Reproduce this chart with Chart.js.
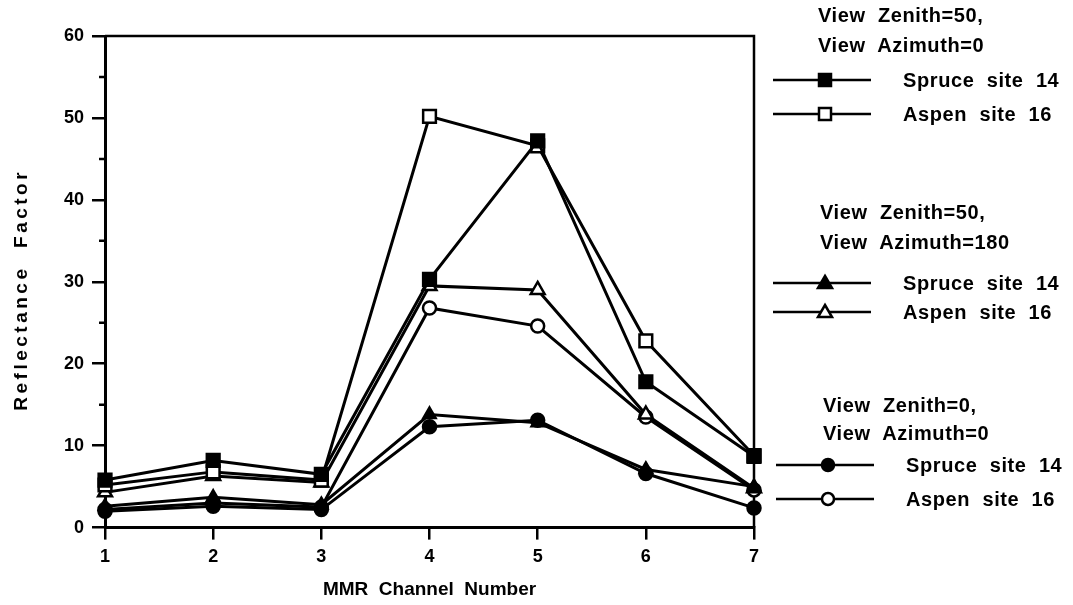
<!DOCTYPE html>
<html>
<head>
<meta charset="utf-8">
<script src="https://cdn.jsdelivr.net/npm/chart.js@4/dist/chart.umd.min.js"></script>
<style>
  html, body { margin: 0; padding: 0; background: #fff; }
  #wrap { position: relative; width: 1073px; height: 605px; }
  #legend { position: absolute; left: 0; top: 0; width: 1073px; height: 605px;
    font-family: 'Liberation Sans', Arial, sans-serif; font-size: 20px; font-weight: bold; color: #000; letter-spacing: 0.6px; }
  #legend div { position: absolute; white-space: pre; line-height: 22px; }
  #legend svg { position: absolute; }
</style>
</head>
<body>
<div id="wrap">
  <canvas id="myChart" width="1073" height="605"></canvas>
  <div id="legend"></div>
</div>
<script>
const channels = ['1', '2', '3', '4', '5', '6', '7'];

// View Zenith=50, View Azimuth=0
const spruceZ50A0 = [5.8, 8.2, 6.5, 30.3, 47.2, 17.8, 8.7];
const aspenZ50A0 = [5.2, 6.8, 5.8, 50.2, 46.6, 22.8, 8.8];
// View Zenith=50, View Azimuth=180
const spruceZ50A180 = [2.6, 3.7, 2.8, 13.8, 12.8, 7.1, 5.0];
const aspenZ50A180 = [4.3, 6.3, 5.5, 29.5, 29.0, 13.8, 4.8];
// View Zenith=0, View Azimuth=0
const spruceZ0A0 = [2.0, 2.6, 2.2, 12.3, 13.1, 6.6, 2.4];
const aspenZ0A0 = [2.2, 3.0, 2.5, 26.8, 24.6, 13.5, 4.6];

const yTicks = [0, 10, 20, 30, 40, 50, 60];
const yMinorTicks = [5, 15, 25, 35, 45, 55];
const yTitle = 'Reflectance  Factor';

const FONT = "'Liberation Sans', Arial, sans-serif";

function series(label, data, style, filled, radius) {
	return {
		label: label,
		data: data,
		borderColor: '#000',
		borderWidth: 3,
		pointStyle: style,
		pointRadius: radius,
		pointHoverRadius: radius,
		pointBorderWidth: 2.5,
		pointBorderColor: '#000',
		pointBackgroundColor: filled ? '#000' : '#fff',
		tension: 0,
		clip: false
	};
}

const data = {
	labels: channels,
	datasets: [
		series('Spruce site 14 (Z50 A0)', spruceZ50A0, 'rect', true, 9),
		series('Aspen site 16 (Z50 A0)', aspenZ50A0, 'rect', false, 9),
		series('Spruce site 14 (Z50 A180)', spruceZ50A180, 'triangle', true, 7),
		series('Aspen site 16 (Z50 A180)', aspenZ50A180, 'triangle', false, 8),
		series('Spruce site 14 (Z0 A0)', spruceZ0A0, 'circle', true, 6.5),
		series('Aspen site 16 (Z0 A0)', aspenZ0A0, 'circle', false, 6.5)
	]
};

// box on top/right, short minor ticks on the y axis, spaced-out y title
const framePlugin = {
	id: 'frame',
	beforeDatasetsDraw(chart) {
		const ctx = chart.ctx;
		const a = chart.chartArea;
		const y = chart.scales.y;
		ctx.save();
		ctx.strokeStyle = '#000';
		ctx.lineWidth = 2.5;
		ctx.beginPath();
		ctx.moveTo(a.left, a.top);
		ctx.lineTo(a.right, a.top);
		ctx.lineTo(a.right, a.bottom);
		ctx.stroke();
		ctx.beginPath();
		yMinorTicks.forEach(v => {
			const py = y.getPixelForValue(v);
			ctx.moveTo(a.left - 6, py);
			ctx.lineTo(a.left, py);
		});
		ctx.stroke();

		ctx.translate(22, (a.top + a.bottom) / 2 + 8);
		ctx.rotate(-Math.PI / 2);
		ctx.font = 'bold 19px ' + FONT;
		ctx.letterSpacing = '3.5px';
		ctx.fillStyle = '#000';
		ctx.textAlign = 'center';
		ctx.textBaseline = 'middle';
		ctx.fillText(yTitle, 0, 0);
		ctx.restore();
	}
};

const config = {
	type: 'line',
	data: data,
	plugins: [framePlugin],
	options: {
		responsive: false,
		animation: false,
		layout: { padding: { left: 56, right: 319, top: 36, bottom: 4 } },
		plugins: {
			legend: { display: false },
			tooltip: { enabled: false }
		},
		scales: {
			x: {
				type: 'category',
				offset: false,
				grid: { drawOnChartArea: false, color: '#000', lineWidth: 2.5, tickLength: 12 },
				border: { color: '#000', width: 3 },
				ticks: { color: '#000', font: { family: FONT, size: 18, weight: 'bold' }, padding: 7, maxRotation: 0 },
				title: {
					display: true, text: 'MMR  Channel  Number', color: '#000',
					font: { family: FONT, size: 19, weight: 'bold' }, padding: { top: 3, bottom: 0 }
				}
			},
			y: {
				min: 0,
				max: 60,
				afterBuildTicks(scale) { scale.ticks = yTicks.map(v => ({ value: v })); },
				grid: { drawOnChartArea: false, color: '#000', lineWidth: 2.5, tickLength: 13 },
				border: { color: '#000', width: 3 },
				ticks: { color: '#000', font: { family: FONT, size: 18, weight: 'bold' }, padding: 8 }
			}
		}
	}
};

const ctx = document.getElementById('myChart').getContext('2d');
const myChart = new Chart(ctx, config);

// legend built as html, grouped by viewing geometry
const legendGroups = [
	{ head: ['View  Zenith=50,', 'View  Azimuth=0'], hx: 818, hy: [15, 45], rows: [80, 114], x: 773, sets: [0, 1] },
	{ head: ['View  Zenith=50,', 'View  Azimuth=180'], hx: 820, hy: [212, 242], rows: [283, 312], x: 773, sets: [2, 3] },
	{ head: ['View  Zenith=0,', 'View  Azimuth=0'], hx: 823, hy: [405, 433], rows: [465, 499], x: 776, sets: [4, 5] }
];
const rowLabels = ['Spruce  site  14', 'Aspen  site  16'];

function markerSvg(ds) {
	const fill = ds.pointBackgroundColor;
	const c = 52, m = 11;
	let shape = '';
	if (ds.pointStyle === 'rect') {
		shape = `<rect x="${c - 6}" y="${m - 6}" width="12" height="12" fill="${fill}" stroke="#000" stroke-width="2.5"/>`;
	} else if (ds.pointStyle === 'triangle') {
		shape = `<polygon points="${c},${m - 7} ${c + 7},${m + 5} ${c - 7},${m + 5}" fill="${fill}" stroke="#000" stroke-width="2.5"/>`;
	} else {
		shape = `<circle cx="${c}" cy="${m}" r="6" fill="${fill}" stroke="#000" stroke-width="2.5"/>`;
	}
	return `<line x1="0" y1="${m}" x2="98" y2="${m}" stroke="#000" stroke-width="2.5"/>` + shape;
}

const legend = document.getElementById('legend');
let html = '';
legendGroups.forEach(g => {
	g.head.forEach((t, i) => {
		html += `<div style="left:${g.hx}px; top:${g.hy[i] - 11}px">${t}</div>`;
	});
	g.sets.forEach((di, i) => {
		const yc = g.rows[i];
		html += `<svg width="100" height="22" style="left:${g.x}px; top:${yc - 11}px">${markerSvg(data.datasets[di])}</svg>`;
		html += `<div style="left:${g.x + 130}px; top:${yc - 11}px">${rowLabels[i]}</div>`;
	});
});
legend.innerHTML = html;
</script>
</body>
</html>
